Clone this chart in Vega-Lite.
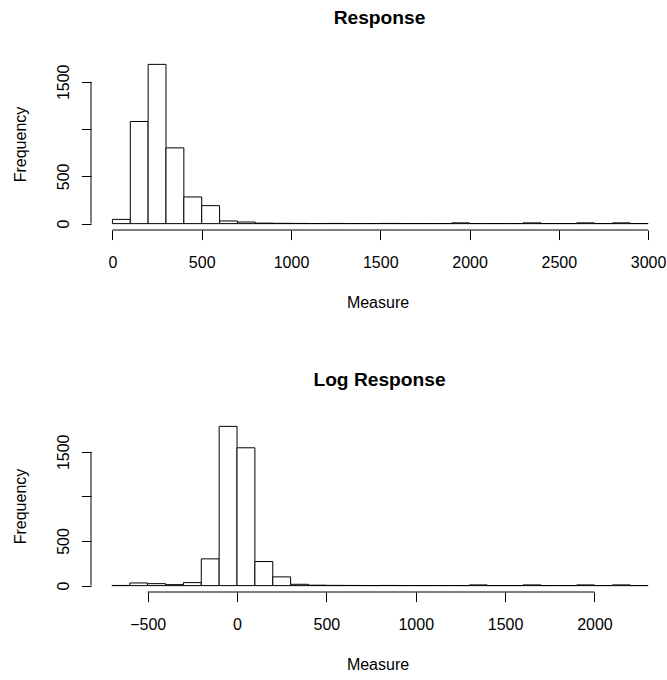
{
  "$schema": "https://vega.github.io/schema/vega-lite/v6.json",
  "padding": {"left": 12, "top": 8, "right": 0, "bottom": 0},
  "autosize": {"type": "pad"},
  "background": "white",
  "config": {
    "view": {"stroke": null},
    "font": "Liberation Sans",
    "axis": {
      "domain": false,
      "grid": false,
      "tickColor": "black",
      "tickSize": 9.6,
      "tickWidth": 1,
      "labelFont": "Liberation Sans",
      "labelFontSize": 16,
      "labelColor": "black",
      "labelOverlap": false,
      "labelFlush": false,
      "titleFont": "Liberation Sans",
      "titleFontSize": 16,
      "titleFontWeight": "normal",
      "titleColor": "black"
    },
    "title": {
      "font": "Liberation Sans",
      "fontSize": 19.2,
      "fontWeight": "bold",
      "color": "black",
      "baseline": "alphabetic",
      "offset": 30,
      "dx": 2
    }
  },
  "datasets": {
    "resp": [
      {"bin_start": 0, "bin_end": 100, "count": 45},
      {"bin_start": 100, "bin_end": 200, "count": 1080},
      {"bin_start": 200, "bin_end": 300, "count": 1684},
      {"bin_start": 300, "bin_end": 400, "count": 801},
      {"bin_start": 400, "bin_end": 500, "count": 282},
      {"bin_start": 500, "bin_end": 600, "count": 190},
      {"bin_start": 600, "bin_end": 700, "count": 28},
      {"bin_start": 700, "bin_end": 800, "count": 17},
      {"bin_start": 800, "bin_end": 900, "count": 5},
      {"bin_start": 900, "bin_end": 1000, "count": 3},
      {"bin_start": 1000, "bin_end": 1100, "count": 2},
      {"bin_start": 1100, "bin_end": 1200, "count": 1},
      {"bin_start": 1200, "bin_end": 1300, "count": 2},
      {"bin_start": 1300, "bin_end": 1400, "count": 1},
      {"bin_start": 1400, "bin_end": 1500, "count": 1},
      {"bin_start": 1500, "bin_end": 1600, "count": 2},
      {"bin_start": 1600, "bin_end": 1700, "count": 1},
      {"bin_start": 1700, "bin_end": 1800, "count": 1},
      {"bin_start": 1800, "bin_end": 1900, "count": 1},
      {"bin_start": 1900, "bin_end": 2000, "count": 8},
      {"bin_start": 2000, "bin_end": 2100, "count": 1},
      {"bin_start": 2100, "bin_end": 2200, "count": 1},
      {"bin_start": 2200, "bin_end": 2300, "count": 1},
      {"bin_start": 2300, "bin_end": 2400, "count": 8},
      {"bin_start": 2400, "bin_end": 2500, "count": 1},
      {"bin_start": 2500, "bin_end": 2600, "count": 1},
      {"bin_start": 2600, "bin_end": 2700, "count": 8},
      {"bin_start": 2700, "bin_end": 2800, "count": 1},
      {"bin_start": 2800, "bin_end": 2900, "count": 8},
      {"bin_start": 2900, "bin_end": 3000, "count": 1}
    ],
    "logresp": [
      {"bin_start": -700, "bin_end": -600, "count": 2},
      {"bin_start": -600, "bin_end": -500, "count": 30},
      {"bin_start": -500, "bin_end": -400, "count": 22},
      {"bin_start": -400, "bin_end": -300, "count": 11},
      {"bin_start": -300, "bin_end": -200, "count": 34},
      {"bin_start": -200, "bin_end": -100, "count": 300},
      {"bin_start": -100, "bin_end": 0, "count": 1785},
      {"bin_start": 0, "bin_end": 100, "count": 1545},
      {"bin_start": 100, "bin_end": 200, "count": 270},
      {"bin_start": 200, "bin_end": 300, "count": 98},
      {"bin_start": 300, "bin_end": 400, "count": 15},
      {"bin_start": 400, "bin_end": 500, "count": 5},
      {"bin_start": 500, "bin_end": 600, "count": 3},
      {"bin_start": 600, "bin_end": 700, "count": 2},
      {"bin_start": 700, "bin_end": 800, "count": 1},
      {"bin_start": 800, "bin_end": 900, "count": 2},
      {"bin_start": 900, "bin_end": 1000, "count": 1},
      {"bin_start": 1000, "bin_end": 1100, "count": 1},
      {"bin_start": 1100, "bin_end": 1200, "count": 1},
      {"bin_start": 1200, "bin_end": 1300, "count": 1},
      {"bin_start": 1300, "bin_end": 1400, "count": 8},
      {"bin_start": 1400, "bin_end": 1500, "count": 1},
      {"bin_start": 1500, "bin_end": 1600, "count": 1},
      {"bin_start": 1600, "bin_end": 1700, "count": 8},
      {"bin_start": 1700, "bin_end": 1800, "count": 1},
      {"bin_start": 1800, "bin_end": 1900, "count": 1},
      {"bin_start": 1900, "bin_end": 2000, "count": 8},
      {"bin_start": 2000, "bin_end": 2100, "count": 1},
      {"bin_start": 2100, "bin_end": 2200, "count": 8},
      {"bin_start": 2200, "bin_end": 2300, "count": 1}
    ]
  },
  "bounds": "flush",
  "spacing": 190,
  "vconcat": [
    {
      "title": {"text": "Response"},
      "width": 573,
      "height": 172,
      "layer": [
        {
          "data": {"name": "resp"},
          "mark": {"type": "rect", "fill": "white", "stroke": "black", "strokeWidth": 1},
          "encoding": {
            "x": {
              "field": "bin_start", "type": "quantitative",
              "scale": {"domain": [-120, 3089], "nice": false, "zero": false},
              "axis": {"values": [0, 500, 1000, 1500, 2000, 2500, 3000], "format": "d", "labelPadding": 14.5, "titlePadding": 24, "title": "Measure"}
            },
            "x2": {"field": "bin_end"},
            "y": {
              "field": "count", "type": "quantitative",
              "scale": {"domain": [-67.4, 1751.4], "nice": false, "zero": false},
              "axis": {"values": [0, 500, 1000, 1500], "format": "d", "labelExpr": "datum.value == 1000 ? '' : datum.label", "labelAngle": -90, "labelAlign": "center", "labelBaseline": "bottom", "labelPadding": 10, "titlePadding": 27, "title": "Frequency"}
            },
            "y2": {"datum": 0}
          }
        },
        {
          "data": {"values": [{}]},
          "mark": {"type": "rule", "color": "black", "strokeWidth": 1},
          "encoding": {"x": {"datum": 0}, "x2": {"datum": 3000}, "y": {"datum": -67.4}}
        },
        {
          "data": {"values": [{}]},
          "mark": {"type": "rule", "color": "black", "strokeWidth": 1},
          "encoding": {"x": {"datum": -120}, "y": {"datum": 0}, "y2": {"datum": 1500}}
        }
      ]
    },
    {
      "title": {"text": "Log Response"},
      "width": 573,
      "height": 172,
      "layer": [
        {
          "data": {"name": "logresp"},
          "mark": {"type": "rect", "fill": "white", "stroke": "black", "strokeWidth": 1},
          "encoding": {
            "x": {
              "field": "bin_start", "type": "quantitative",
              "scale": {"domain": [-817, 2389], "nice": false, "zero": false},
              "axis": {"values": [-500, 0, 500, 1000, 1500, 2000], "format": "d", "labelPadding": 14.5, "titlePadding": 24, "title": "Measure"}
            },
            "x2": {"field": "bin_end"},
            "y": {
              "field": "count", "type": "quantitative",
              "scale": {"domain": [-71.4, 1856.4], "nice": false, "zero": false},
              "axis": {"values": [0, 500, 1000, 1500], "format": "d", "labelExpr": "datum.value == 1000 ? '' : datum.label", "labelAngle": -90, "labelAlign": "center", "labelBaseline": "bottom", "labelPadding": 10, "titlePadding": 27, "title": "Frequency"}
            },
            "y2": {"datum": 0}
          }
        },
        {
          "data": {"values": [{}]},
          "mark": {"type": "rule", "color": "black", "strokeWidth": 1},
          "encoding": {"x": {"datum": -500}, "x2": {"datum": 2000}, "y": {"datum": -71.4}}
        },
        {
          "data": {"values": [{}]},
          "mark": {"type": "rule", "color": "black", "strokeWidth": 1},
          "encoding": {"x": {"datum": -817}, "y": {"datum": 0}, "y2": {"datum": 1500}}
        }
      ]
    }
  ]
}
